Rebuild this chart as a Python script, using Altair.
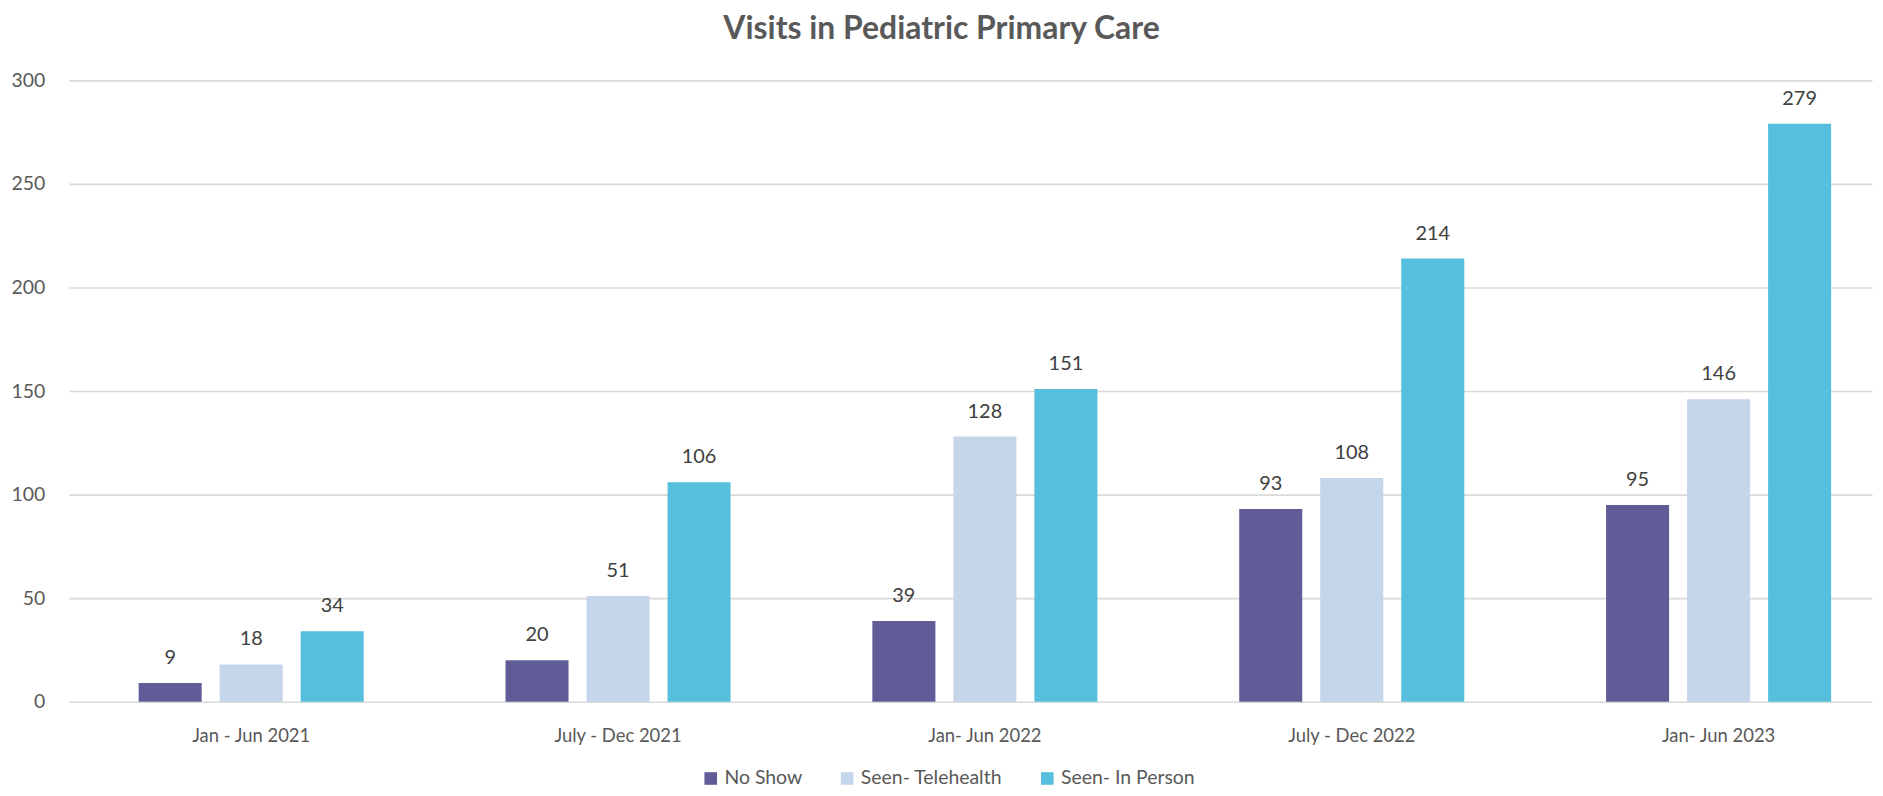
import altair as alt
import pandas as pd

periods = ["Jan - Jun 2021", "July - Dec 2021", "Jan- Jun 2022", "July - Dec 2022", "Jan- Jun 2023"]
series = ["No Show", "Seen- Telehealth", "Seen- In Person"]
no_show = [9, 20, 39, 93, 95]
telehealth = [18, 51, 128, 108, 146]
in_person = [34, 106, 151, 214, 279]
colors = ["#605C97", "#C5D5EA", "#55BFDD"]

rows = []
for i, p in enumerate(periods):
    for s, vals in zip(series, [no_show, telehealth, in_person]):
        rows.append({"period": p, "series": s, "value": vals[i]})
df = pd.DataFrame(rows)

FONT = "Lato"

base = alt.Chart(df).encode(
    x=alt.X("period:N", sort=periods, title=None,
            scale=alt.Scale(paddingInner=0.3865, paddingOuter=0.151, align=0.631),
            axis=alt.Axis(labelAngle=0, domain=False, ticks=False, labelPadding=25,
                          labelFontSize=18.5, labelColor="#595959", labelFont=FONT, grid=False)),
    xOffset=alt.XOffset("series:N", sort=series,
                        scale=alt.Scale(paddingInner=0.222, paddingOuter=0)),
)

bars = base.mark_bar().encode(
    y=alt.Y("value:Q", title=None,
            scale=alt.Scale(domain=[0, 300], nice=False),
            axis=alt.Axis(values=[0, 50, 100, 150, 200, 250, 300], domain=False, ticks=False,
                          labelPadding=24, labelFontSize=19.5, labelColor="#595959", labelFont=FONT,
                          gridColor="#D9D9D9", gridWidth=1.6)),
    color=alt.Color("series:N", sort=series,
                    scale=alt.Scale(domain=series, range=colors),
                    legend=alt.Legend(title=None, orient="none", direction="horizontal",
                                      legendX=635, legendY=691, symbolType="square",
                                      symbolSize=160, symbolStrokeWidth=0, labelFontSize=19.5,
                                      labelColor="#595959", labelFont=FONT, labelOffset=4,
                                      columnPadding=35, padding=0)),
)

labels = base.mark_text(baseline="bottom", dy=-15, fontSize=20, color="#404040", font=FONT).encode(
    y=alt.Y("value:Q"),
    text=alt.Text("value:Q"),
)

chart = alt.layer(bars, labels).properties(
    width=1811,
    height=624,
    autosize=alt.AutoSizeParams(type="none"),
    padding={"left": 61, "top": 71, "right": 3, "bottom": 85},
    title=alt.TitleParams("Visits in Pediatric Primary Care", fontSize=32, font=FONT,
                          fontWeight="bold", color="#595959", anchor="middle",
                          frame="bounds", offset=25),
).configure_view(stroke=None)

chart.save("out.html", embed_options={"renderer": "svg", "actions": False})
